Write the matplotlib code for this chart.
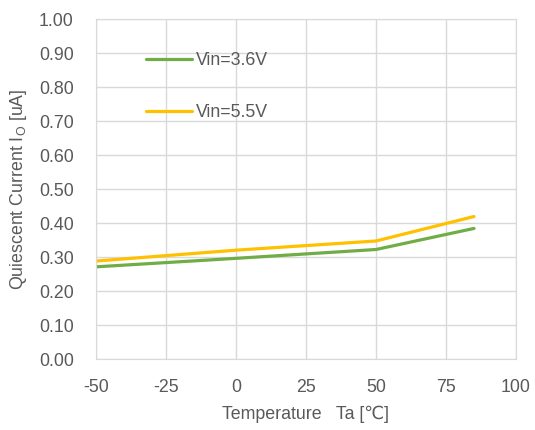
import matplotlib
matplotlib.use('Agg')
import matplotlib.pyplot as plt

plt.rcParams['font.family'] = ['Liberation Sans', 'DejaVu Sans']
plt.rcParams['axes.unicode_minus'] = False

# data
temps = [-50, 0, 50, 85]
iq_36 = [0.272, 0.297, 0.323, 0.385]
iq_55 = [0.289, 0.321, 0.348, 0.420]

xticks = [-50, -25, 0, 25, 50, 75, 100]
yticks = [i / 10 for i in range(11)]

txt = '#595959'
grid = '#d9d9d9'
fs = 12.8

fig = plt.figure(figsize=(5.35, 4.3), dpi=100)
ax = fig.add_axes([0.1794, 0.1644, 0.7851, 0.7906])

ax.plot(temps, iq_36, color='#70AD47', lw=2.3, label='Vin=3.6V', solid_capstyle='round')
ax.plot(temps, iq_55, color='#FFC000', lw=2.3, label='Vin=5.5V', solid_capstyle='round')

ax.set_xlim(-50, 100)
ax.set_ylim(0, 1.0)
ax.set_xticks(xticks)
ax.set_yticks(yticks)
ax.set_yticklabels([f'{v:.2f}' for v in yticks])
ax.grid(True, color=grid, lw=1)
ax.set_axisbelow(True)
for s in ax.spines.values():
    s.set_color(grid)
ax.tick_params(length=0, labelsize=fs, colors=txt)
ax.tick_params(axis='y', pad=16)
ax.tick_params(axis='x', pad=14)

ax.set_xlabel('Temperature   Ta [℃]', fontsize=fs, color=txt, labelpad=7)
ax.set_ylabel(r'Quiescent Current I$_\mathregular{O}$ [uA]', fontsize=fs, color=txt, labelpad=7)

leg = ax.legend(loc='upper left', bbox_to_anchor=(0.081, 0.95), frameon=False,
                fontsize=fs, labelspacing=1.95, handlelength=2.6, handletextpad=0.2)
for t in leg.get_texts():
    t.set_color(txt)

fig.savefig('out.png', dpi=100)
